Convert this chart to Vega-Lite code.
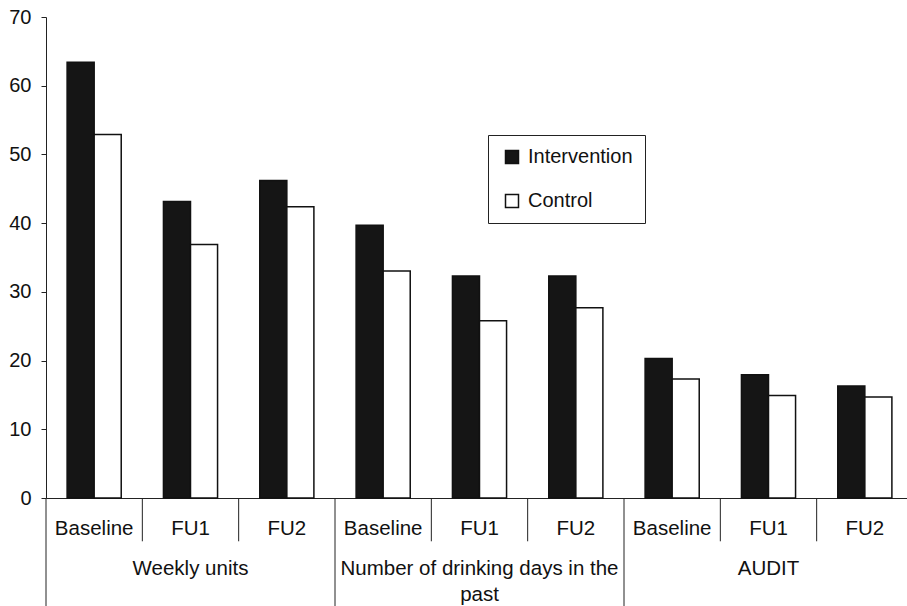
{
  "$schema": "https://vega.github.io/schema/vega-lite/v6.json",
  "width": 867,
  "height": 481,
  "autosize": {"type": "none"},
  "padding": {"left": 46, "top": 17, "right": 0, "bottom": 108},
  "background": "white",
  "config": {
    "font": "Liberation Sans",
    "view": {"stroke": null},
    "axis": {"labelFont": "Liberation Sans", "labelColor": "#111", "domainColor": "#222", "tickColor": "#222"}
  },
  "datasets": {
    "bars": [
      {"cat": "W|Baseline", "group": "Intervention", "value": 63.4},
      {"cat": "W|Baseline", "group": "Control", "value": 52.9},
      {"cat": "W|FU1", "group": "Intervention", "value": 43.15},
      {"cat": "W|FU1", "group": "Control", "value": 36.9},
      {"cat": "W|FU2", "group": "Intervention", "value": 46.2},
      {"cat": "W|FU2", "group": "Control", "value": 42.4},
      {"cat": "D|Baseline", "group": "Intervention", "value": 39.7},
      {"cat": "D|Baseline", "group": "Control", "value": 33.05},
      {"cat": "D|FU1", "group": "Intervention", "value": 32.3},
      {"cat": "D|FU1", "group": "Control", "value": 25.8},
      {"cat": "D|FU2", "group": "Intervention", "value": 32.3},
      {"cat": "D|FU2", "group": "Control", "value": 27.7},
      {"cat": "A|Baseline", "group": "Intervention", "value": 20.3},
      {"cat": "A|Baseline", "group": "Control", "value": 17.3},
      {"cat": "A|FU1", "group": "Intervention", "value": 17.95},
      {"cat": "A|FU1", "group": "Control", "value": 14.9},
      {"cat": "A|FU2", "group": "Intervention", "value": 16.3},
      {"cat": "A|FU2", "group": "Control", "value": 14.7}
    ],
    "cats": [
      {"cat": "W|Baseline", "time": "Baseline", "first": true},
      {"cat": "W|FU1", "time": "FU1", "first": false},
      {"cat": "W|FU2", "time": "FU2", "first": false},
      {"cat": "D|Baseline", "time": "Baseline", "first": true},
      {"cat": "D|FU1", "time": "FU1", "first": false},
      {"cat": "D|FU2", "time": "FU2", "first": false},
      {"cat": "A|Baseline", "time": "Baseline", "first": true},
      {"cat": "A|FU1", "time": "FU1", "first": false},
      {"cat": "A|FU2", "time": "FU2", "first": false}
    ],
    "groups": [
      {"cat": "W|FU1", "label": "Weekly units"},
      {"cat": "D|FU1", "label": "Number of drinking days in the\npast"},
      {"cat": "A|FU1", "label": "AUDIT"}
    ]
  },
  "layer": [
    {
      "data": {"name": "bars"},
      "mark": {"type": "bar", "stroke": "#111", "strokeWidth": 1.5},
      "encoding": {
        "x": {
          "field": "cat", "type": "nominal", "sort": null,
          "scale": {"paddingInner": 0, "paddingOuter": 0},
          "axis": {"title": null, "labels": false, "ticks": false, "domain": true}
        },
        "xOffset": {
          "field": "group", "type": "nominal",
          "sort": ["Intervention", "Control"],
          "scale": {"paddingOuter": 0.78, "paddingInner": 0}
        },
        "y": {
          "field": "value", "type": "quantitative",
          "scale": {"domain": [0, 70], "nice": false},
          "axis": {"title": null, "values": [0, 10, 20, 30, 40, 50, 60, 70], "grid": false, "tickSize": 5, "labelFontSize": 20, "labelPadding": 10}
        },
        "fill": {
          "field": "group", "type": "nominal",
          "scale": {"domain": ["Intervention", "Control"], "range": ["#151515", "#ffffff"]},
          "legend": {
            "title": null, "orient": "none", "legendX": 442, "legendY": 118,
            "strokeColor": "#222", "padding": 12, "symbolOffset": 2,
            "symbolType": "square", "symbolSize": 169, "symbolStrokeColor": "#111", "symbolStrokeWidth": 1.5,
            "labelFontSize": 20, "labelOffset": 6, "rowPadding": 24, "labelColor": "#111"
          }
        }
      }
    },
    {
      "data": {"name": "cats"},
      "transform": [{"filter": "datum.first"}],
      "mark": {"type": "rule", "color": "#222", "strokeWidth": 1},
      "encoding": {
        "x": {"field": "cat", "type": "nominal", "sort": null, "bandPosition": 0},
        "y": {"datum": 0},
        "y2": {"datum": -16}
      }
    },
    {
      "data": {"name": "cats"},
      "transform": [{"filter": "!datum.first"}],
      "mark": {"type": "rule", "color": "#222", "strokeWidth": 1},
      "encoding": {
        "x": {"field": "cat", "type": "nominal", "sort": null, "bandPosition": 0},
        "y": {"datum": 0},
        "y2": {"datum": -6.3}
      }
    },
    {
      "data": {"name": "cats"},
      "mark": {"type": "text", "fontSize": 20.5, "baseline": "middle", "align": "center", "color": "#111"},
      "encoding": {
        "x": {"field": "cat", "type": "nominal", "sort": null, "bandPosition": 0.5},
        "y": {"datum": -4.5},
        "text": {"field": "time"}
      }
    },
    {
      "data": {"name": "groups"},
      "mark": {"type": "text", "fontSize": 20.5, "baseline": "top", "align": "center", "lineBreak": "\n", "lineHeight": 26, "color": "#111"},
      "encoding": {
        "x": {"field": "cat", "type": "nominal", "sort": null, "bandPosition": 0.5},
        "y": {"datum": -8.95},
        "text": {"field": "label"}
      }
    }
  ]
}
